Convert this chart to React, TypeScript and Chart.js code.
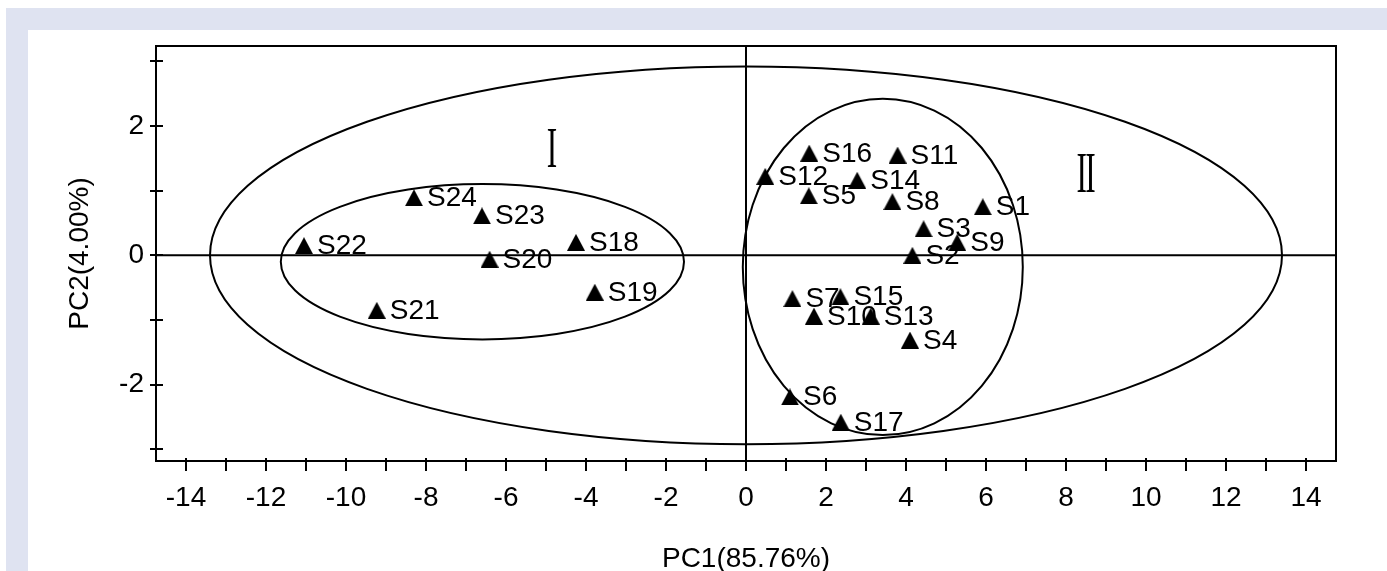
import React, { useEffect, useRef } from 'react';
import { Chart, registerables } from 'chart.js';

Chart.register(...registerables);

// ---- data ----
const sampleNames = [
  'S1', 'S2', 'S3', 'S4', 'S5', 'S6', 'S7', 'S8', 'S9', 'S10', 'S11', 'S12',
  'S13', 'S14', 'S15', 'S16', 'S17', 'S18', 'S19', 'S20', 'S21', 'S22', 'S23', 'S24',
];
const pc1Scores = [
  5.92, 4.16, 4.44, 4.10, 1.57, 1.10, 1.16, 3.66, 5.28, 1.70, 3.79, 0.48,
  3.12, 2.78, 2.36, 1.58, 2.37, -4.25, -3.78, -6.41, -9.23, -11.05, -6.60, -8.30,
];
const pc2Scores = [
  0.75, 0.0, 0.41, -1.31, 0.92, -2.19, -0.67, 0.83, 0.20, -0.94, 1.55, 1.22,
  -0.94, 1.16, -0.64, 1.58, -2.58, 0.20, -0.57, -0.06, -0.85, 0.15, 0.61, 0.89,
];

// confidence ellipses (axis units)
const ellipseCenterX = [0, -6.59, 3.42];
const ellipseCenterY = [0, -0.1, -0.18];
const ellipseRadiusX = [13.4, 5.04, 3.5];
const ellipseRadiusY = [2.92, 1.2, 2.6];

// group labels
const groupLabels = ['I', 'II'];
const groupLabelX = [-4.87, 8.48];
const groupLabelY = [1.66, 1.27];

const xTitle = 'PC1(85.76%)';
const yTitle = 'PC2(4.00%)';
const xMin = -14.75;
const xMax = 14.75;
const yMin = -3.18;
const yMax = 3.235;

const SANS = '"Liberation Sans", Arial, sans-serif';
const SERIF = '"Liberation Serif", "Times New Roman", serif';

function evenLabel(v: number | string) {
  const n = Number(v);
  return Math.round(n) % 2 === 0 ? String(Math.round(n)) : '';
}

const decorPlugin = {
  id: 'pcaDecor',
  beforeDatasetsDraw(chart: any) {
    const { ctx, chartArea: ca, scales } = chart;
    const x = scales.x;
    const y = scales.y;
    ctx.save();
    ctx.strokeStyle = '#000';
    ctx.lineWidth = 2;

    // frame
    ctx.strokeRect(ca.left, ca.top, ca.right - ca.left, ca.bottom - ca.top);

    // tick marks
    ctx.beginPath();
    for (const t of x.ticks) {
      const px = Math.round(x.getPixelForValue(t.value));
      ctx.moveTo(px, ca.bottom - 3);
      ctx.lineTo(px, ca.bottom + 10);
    }
    for (const t of y.ticks) {
      const py = Math.round(y.getPixelForValue(t.value));
      ctx.moveTo(ca.left - 6, py);
      ctx.lineTo(ca.left + 7, py);
    }
    ctx.stroke();

    // zero lines
    const x0 = x.getPixelForValue(0);
    const y0 = y.getPixelForValue(0);
    ctx.beginPath();
    ctx.moveTo(x0, ca.top);
    ctx.lineTo(x0, ca.bottom);
    ctx.moveTo(ca.left, y0);
    ctx.lineTo(ca.right, y0);
    ctx.stroke();

    // ellipses
    for (let i = 0; i < ellipseCenterX.length; i++) {
      const cx = x.getPixelForValue(ellipseCenterX[i]);
      const cy = y.getPixelForValue(ellipseCenterY[i]);
      const rx = Math.abs(x.getPixelForValue(ellipseCenterX[i] + ellipseRadiusX[i]) - cx);
      const ry = Math.abs(y.getPixelForValue(ellipseCenterY[i] + ellipseRadiusY[i]) - cy);
      ctx.beginPath();
      ctx.ellipse(cx, cy, rx, ry, 0, 0, Math.PI * 2);
      ctx.stroke();
    }

    // group labels (Roman numerals)
    ctx.fillStyle = '#000';
    ctx.font = `57px ${SERIF}`;
    ctx.textAlign = 'center';
    ctx.textBaseline = 'alphabetic';
    for (let i = 0; i < groupLabels.length; i++) {
      const px = x.getPixelForValue(groupLabelX[i]);
      const py = y.getPixelForValue(groupLabelY[i]);
      ctx.save();
      ctx.translate(px, py + 19);
      ctx.scale(0.55, 1);
      (ctx as any).letterSpacing = '-3px';
      ctx.fillText(groupLabels[i], 0, 0);
      ctx.restore();
    }

    // point labels
    const meta = chart.getDatasetMeta(0);
    ctx.font = `28px ${SANS}`;
    ctx.textAlign = 'left';
    ctx.textBaseline = 'alphabetic';
    meta.data.forEach((el: any, i: number) => {
      ctx.fillText(sampleNames[i], el.x + 13, el.y + 8.5);
    });
    ctx.restore();
  },
};

function makeTriangle(): HTMLCanvasElement {
  const c = document.createElement('canvas');
  c.width = 18;
  c.height = 17;
  const g = c.getContext('2d')!;
  g.fillStyle = '#000';
  g.beginPath();
  g.moveTo(9, 0);
  g.lineTo(18, 17);
  g.lineTo(0, 17);
  g.closePath();
  g.fill();
  return c;
}

export default function App() {
  const ref = useRef<HTMLCanvasElement | null>(null);

  useEffect(() => {
    if (!ref.current) return;
    const tri = makeTriangle();
    const points = pc1Scores.map((v, i) => ({ x: v, y: pc2Scores[i] }));
    const chart = new Chart(ref.current, {
      type: 'scatter',
      data: {
        datasets: [
          {
            data: points,
            pointStyle: tri as any,
            pointRadius: 9,
            backgroundColor: '#000',
            borderColor: '#000',
            showLine: false,
          },
        ],
      },
      options: {
        animation: false,
        responsive: false,
        devicePixelRatio: 1,
        layout: { padding: { top: 16, right: 51, left: 0, bottom: 0 } },
        plugins: {
          legend: { display: false },
          tooltip: { enabled: false },
        },
        scales: {
          x: {
            type: 'linear',
            position: 'bottom',
            min: xMin,
            max: xMax,
            grid: { display: false, drawTicks: false },
            border: { display: false },
            ticks: {
              stepSize: 1,
              includeBounds: false,
              autoSkip: false,
              maxRotation: 0,
              minRotation: 0,
              padding: 20,
              color: '#000',
              font: { size: 28, family: SANS, lineHeight: 1.2 },
              callback: (v: any) => evenLabel(v),
            },
            title: {
              display: true,
              text: xTitle,
              color: '#000',
              font: { size: 28, family: SANS, lineHeight: 1 },
              padding: { top: 0, bottom: -2 },
            },
            afterFit: (s: any) => {
              s.height = 110;
              s.paddingLeft = 0;
              s.paddingRight = 0;
            },
          },
          y: {
            type: 'linear',
            min: yMin,
            max: yMax,
            grid: { display: false, drawTicks: false },
            border: { display: false },
            ticks: {
              stepSize: 1,
              includeBounds: false,
              autoSkip: false,
              padding: 12,
              color: '#000',
              font: { size: 28, family: SANS, lineHeight: 1.2 },
              callback: (v: any) => evenLabel(v),
            },
            title: {
              display: true,
              text: yTitle,
              color: '#000',
              font: { size: 28, family: SANS, lineHeight: 1 },
              padding: { top: 38, bottom: 0 },
            },
            afterFit: (s: any) => {
              s.width = 128;
              s.paddingTop = 0;
              s.paddingBottom = 0;
            },
          },
        },
      },
      plugins: [decorPlugin],
    });
    return () => chart.destroy();
  }, []);

  return (
    <div
      style={{
        position: 'fixed',
        left: 6,
        top: 8,
        right: 0,
        bottom: 0,
        background: '#dfe3f1',
      }}
    >
      <div
        style={{
          position: 'absolute',
          left: 22,
          top: 22,
          right: 0,
          bottom: 0,
          background: '#fff',
          overflow: 'hidden',
        }}
      >
        <canvas ref={ref} width={1359} height={541} style={{ display: 'block' }} />
      </div>
    </div>
  );
}
